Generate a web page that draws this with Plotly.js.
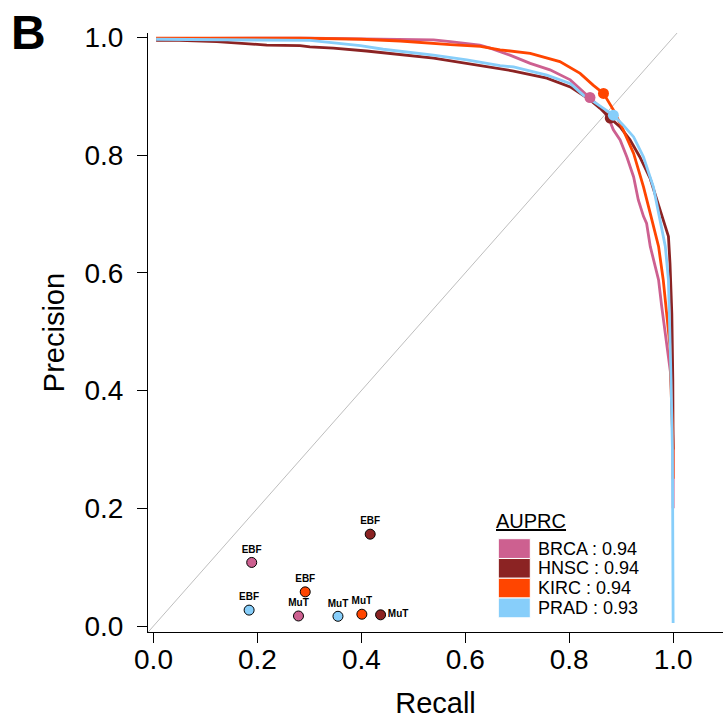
<!DOCTYPE html>
<html>
<head>
<meta charset="utf-8">
<script src="https://cdn.plot.ly/plotly-3.0.1.min.js"></script>
<style>html,body{margin:0;padding:0;background:#fff;}#chart{width:723px;height:719px;}</style>
</head>
<body>
<div id="chart"></div>
<script>
// ---- data ----
const series = ["BRCA", "HNSC", "KIRC", "PRAD"];
const auprc = ["0.94", "0.94", "0.94", "0.93"];
const colors = ["#CD6090", "#8B2323", "#FF4500", "#87CEFA"];

const brcaRecall = [0.005, 0.1, 0.2, 0.3, 0.4, 0.5, 0.539, 0.571, 0.628, 0.648, 0.686, 0.725, 0.763, 0.802, 0.827, 0.840, 0.859, 0.875, 0.885, 0.898, 0.911, 0.924, 0.933, 0.943, 0.949, 0.956, 0.965, 0.972, 0.978, 0.983, 0.990, 0.995, 0.998, 1.0, 1.0];
const brcaPrecision = [0.998, 0.999, 0.999, 0.999, 0.998, 0.997, 0.996, 0.993, 0.987, 0.982, 0.970, 0.956, 0.945, 0.928, 0.908, 0.898, 0.882, 0.865, 0.843, 0.826, 0.797, 0.763, 0.724, 0.696, 0.684, 0.645, 0.611, 0.588, 0.543, 0.511, 0.470, 0.430, 0.380, 0.30, 0.20];

const hnscRecall = [0.005, 0.05, 0.122, 0.166, 0.218, 0.282, 0.301, 0.346, 0.41, 0.539, 0.629, 0.667, 0.693, 0.757, 0.802, 0.840, 0.859, 0.879, 0.898, 0.917, 0.936, 0.956, 0.965, 0.978, 0.991, 0.994, 0.9975, 0.9994, 1.0, 1.0];
const hnscPrecision = [0.995, 0.995, 0.993, 0.990, 0.987, 0.986, 0.984, 0.982, 0.977, 0.965, 0.952, 0.946, 0.943, 0.931, 0.916, 0.894, 0.880, 0.863, 0.848, 0.826, 0.797, 0.760, 0.735, 0.701, 0.662, 0.616, 0.531, 0.418, 0.35, 0.30];

const kircRecall = [0.005, 0.1, 0.2, 0.282, 0.4, 0.475, 0.571, 0.629, 0.667, 0.725, 0.782, 0.821, 0.846, 0.866, 0.885, 0.904, 0.924, 0.943, 0.956, 0.972, 0.981, 0.988, 0.994, 0.9955, 0.998, 1.0, 1.0];
const kircPrecision = [0.999, 0.999, 0.999, 0.999, 0.997, 0.994, 0.988, 0.985, 0.979, 0.973, 0.959, 0.939, 0.919, 0.905, 0.877, 0.843, 0.803, 0.746, 0.701, 0.645, 0.588, 0.531, 0.475, 0.418, 0.36, 0.30, 0.25];

const pradRecall = [0.005, 0.153, 0.282, 0.301, 0.398, 0.442, 0.539, 0.603, 0.667, 0.693, 0.757, 0.802, 0.827, 0.847, 0.885, 0.904, 0.924, 0.943, 0.962, 0.972, 0.985, 0.991, 0.994, 0.996, 0.9987, 1.0, 1.0];
const pradPrecision = [0.997, 0.996, 0.996, 0.995, 0.986, 0.980, 0.970, 0.962, 0.952, 0.950, 0.936, 0.922, 0.902, 0.891, 0.868, 0.851, 0.831, 0.797, 0.746, 0.701, 0.645, 0.588, 0.503, 0.418, 0.30, 0.10, 0.005];

// operating point of each curve (BRCA, HNSC, KIRC, PRAD)
const opRecall = [0.840, 0.879, 0.866, 0.885];
const opPrecision = [0.898, 0.863, 0.905, 0.868];

// other methods (BRCA, HNSC, KIRC, PRAD)
const ebfRecall = [0.189, 0.417, 0.292, 0.184];
const ebfPrecision = [0.108, 0.156, 0.058, 0.027];
const mutRecall = [0.279, 0.437, 0.401, 0.355];
const mutPrecision = [0.017, 0.019, 0.020, 0.0165];

const tickVals = [0, 0.2, 0.4, 0.6, 0.8, 1.0];
const tickText = ["0.0", "0.2", "0.4", "0.6", "0.8", "1.0"];
const diagonal = [-0.05, 1.2];

// ---- layout constants ----
const W = 723, H = 719;
const mL = 148, mR = 0, mT = 32.7, mB = 86.7;
const xRange = [-0.0106, 1.096];
const yRange = [-0.0102, 1.0076];
const FONT = "Liberation Sans, Arial, Helvetica, sans-serif";
const plotW = W - mL - mR, plotH = H - mT - mB;
const px2x = p => xRange[0] + (p - mL) / plotW * (xRange[1] - xRange[0]);
const py2y = p => yRange[1] - (p - mT) / plotH * (yRange[1] - yRange[0]);

const curves = [
  [brcaRecall, brcaPrecision],
  [hnscRecall, hnscPrecision],
  [kircRecall, kircPrecision],
  [pradRecall, pradPrecision]
];

const traces = [];
traces.push({
  x: diagonal, y: diagonal, mode: "lines", type: "scatter",
  line: {color: "#BEBEBE", width: 1}, hoverinfo: "skip", showlegend: false
});
curves.forEach((c, i) => {
  traces.push({
    x: c[0], y: c[1], mode: "lines", type: "scatter", name: series[i],
    line: {color: colors[i], width: 2.8}, showlegend: false
  });
});
series.forEach((s, i) => {
  traces.push({
    x: [opRecall[i]], y: [opPrecision[i]], mode: "markers", type: "scatter",
    marker: {color: colors[i], size: 11}, showlegend: false, cliponaxis: false
  });
});
// EBF points
traces.push({
  x: ebfRecall, y: ebfPrecision, mode: "markers+text", type: "scatter",
  text: series.map(() => "EBF"), textposition: "top center",
  textfont: {family: FONT, size: 10, color: "#000", weight: "bold"},
  marker: {color: colors, size: 10, line: {color: "#000", width: 1}},
  showlegend: false, cliponaxis: false
});
// MuT points
traces.push({
  x: mutRecall, y: mutPrecision, mode: "markers+text", type: "scatter",
  text: series.map(() => "MuT"),
  textposition: ["top center", "middle right", "top center", "top center"],
  textfont: {family: FONT, size: 10, color: "#000", weight: "bold"},
  marker: {color: colors, size: 10, line: {color: "#000", width: 1}},
  showlegend: false, cliponaxis: false
});

// legend (drawn manually)
const shapes = [];
const annotations = [];
const rowPitch = 19.8, row0 = 548.8;
series.forEach((s, i) => {
  const cy = row0 + rowPitch * i;
  shapes.push({
    type: "rect", xref: "x", yref: "y",
    x0: px2x(498.3), x1: px2x(530.3),
    y0: py2y(cy + rowPitch / 2), y1: py2y(cy - rowPitch / 2),
    fillcolor: colors[i], line: {color: "#FFFFFF", width: 1}
  });
  annotations.push({
    xref: "x", yref: "y", x: px2x(536), y: py2y(cy),
    xanchor: "left", yanchor: "middle", showarrow: false,
    text: s + " : " + auprc[i],
    font: {family: FONT, size: 18, color: "#000"}
  });
});
annotations.push({
  xref: "x", yref: "y", x: px2x(493.5), y: py2y(521),
  xanchor: "left", yanchor: "middle", showarrow: false,
  text: "<u>AUPRC</u>", font: {family: FONT, size: 20, color: "#000"}
});
annotations.push({
  xref: "paper", yref: "paper", x: (9 - mL) / plotW, y: (H - mB - 32) / plotH,
  xanchor: "left", yanchor: "middle", showarrow: false,
  text: "<b>B</b>", font: {family: FONT, size: 48, color: "#000"}
});

const axisCommon = {
  showgrid: false, zeroline: false, showline: true, linecolor: "#000", linewidth: 1,
  ticks: "outside", ticklen: 10, tickwidth: 1, tickcolor: "#000",
  tickvals: tickVals, ticktext: tickText,
  tickfont: {family: FONT, size: 28, color: "#000"}
};

const layout = {
  width: W, height: H,
  margin: {l: mL, r: mR, t: mT, b: mB, pad: 0},
  paper_bgcolor: "#fff", plot_bgcolor: "#fff",
  showlegend: false,
  font: {family: FONT, color: "#000"},
  xaxis: Object.assign({}, axisCommon, {
    range: xRange, ticklabelstandoff: -8,
    title: {text: "Recall", font: {family: FONT, size: 29, color: "#000"}, standoff: 30}
  }),
  yaxis: Object.assign({}, axisCommon, {
    range: yRange, ticklabelstandoff: 8,
    title: {text: "Precision", font: {family: FONT, size: 29, color: "#000"}, standoff: 11}
  }),
  shapes: shapes,
  annotations: annotations
};

Plotly.newPlot("chart", traces, layout, {displayModeBar: false, staticPlot: true});
</script>
</body>
</html>
